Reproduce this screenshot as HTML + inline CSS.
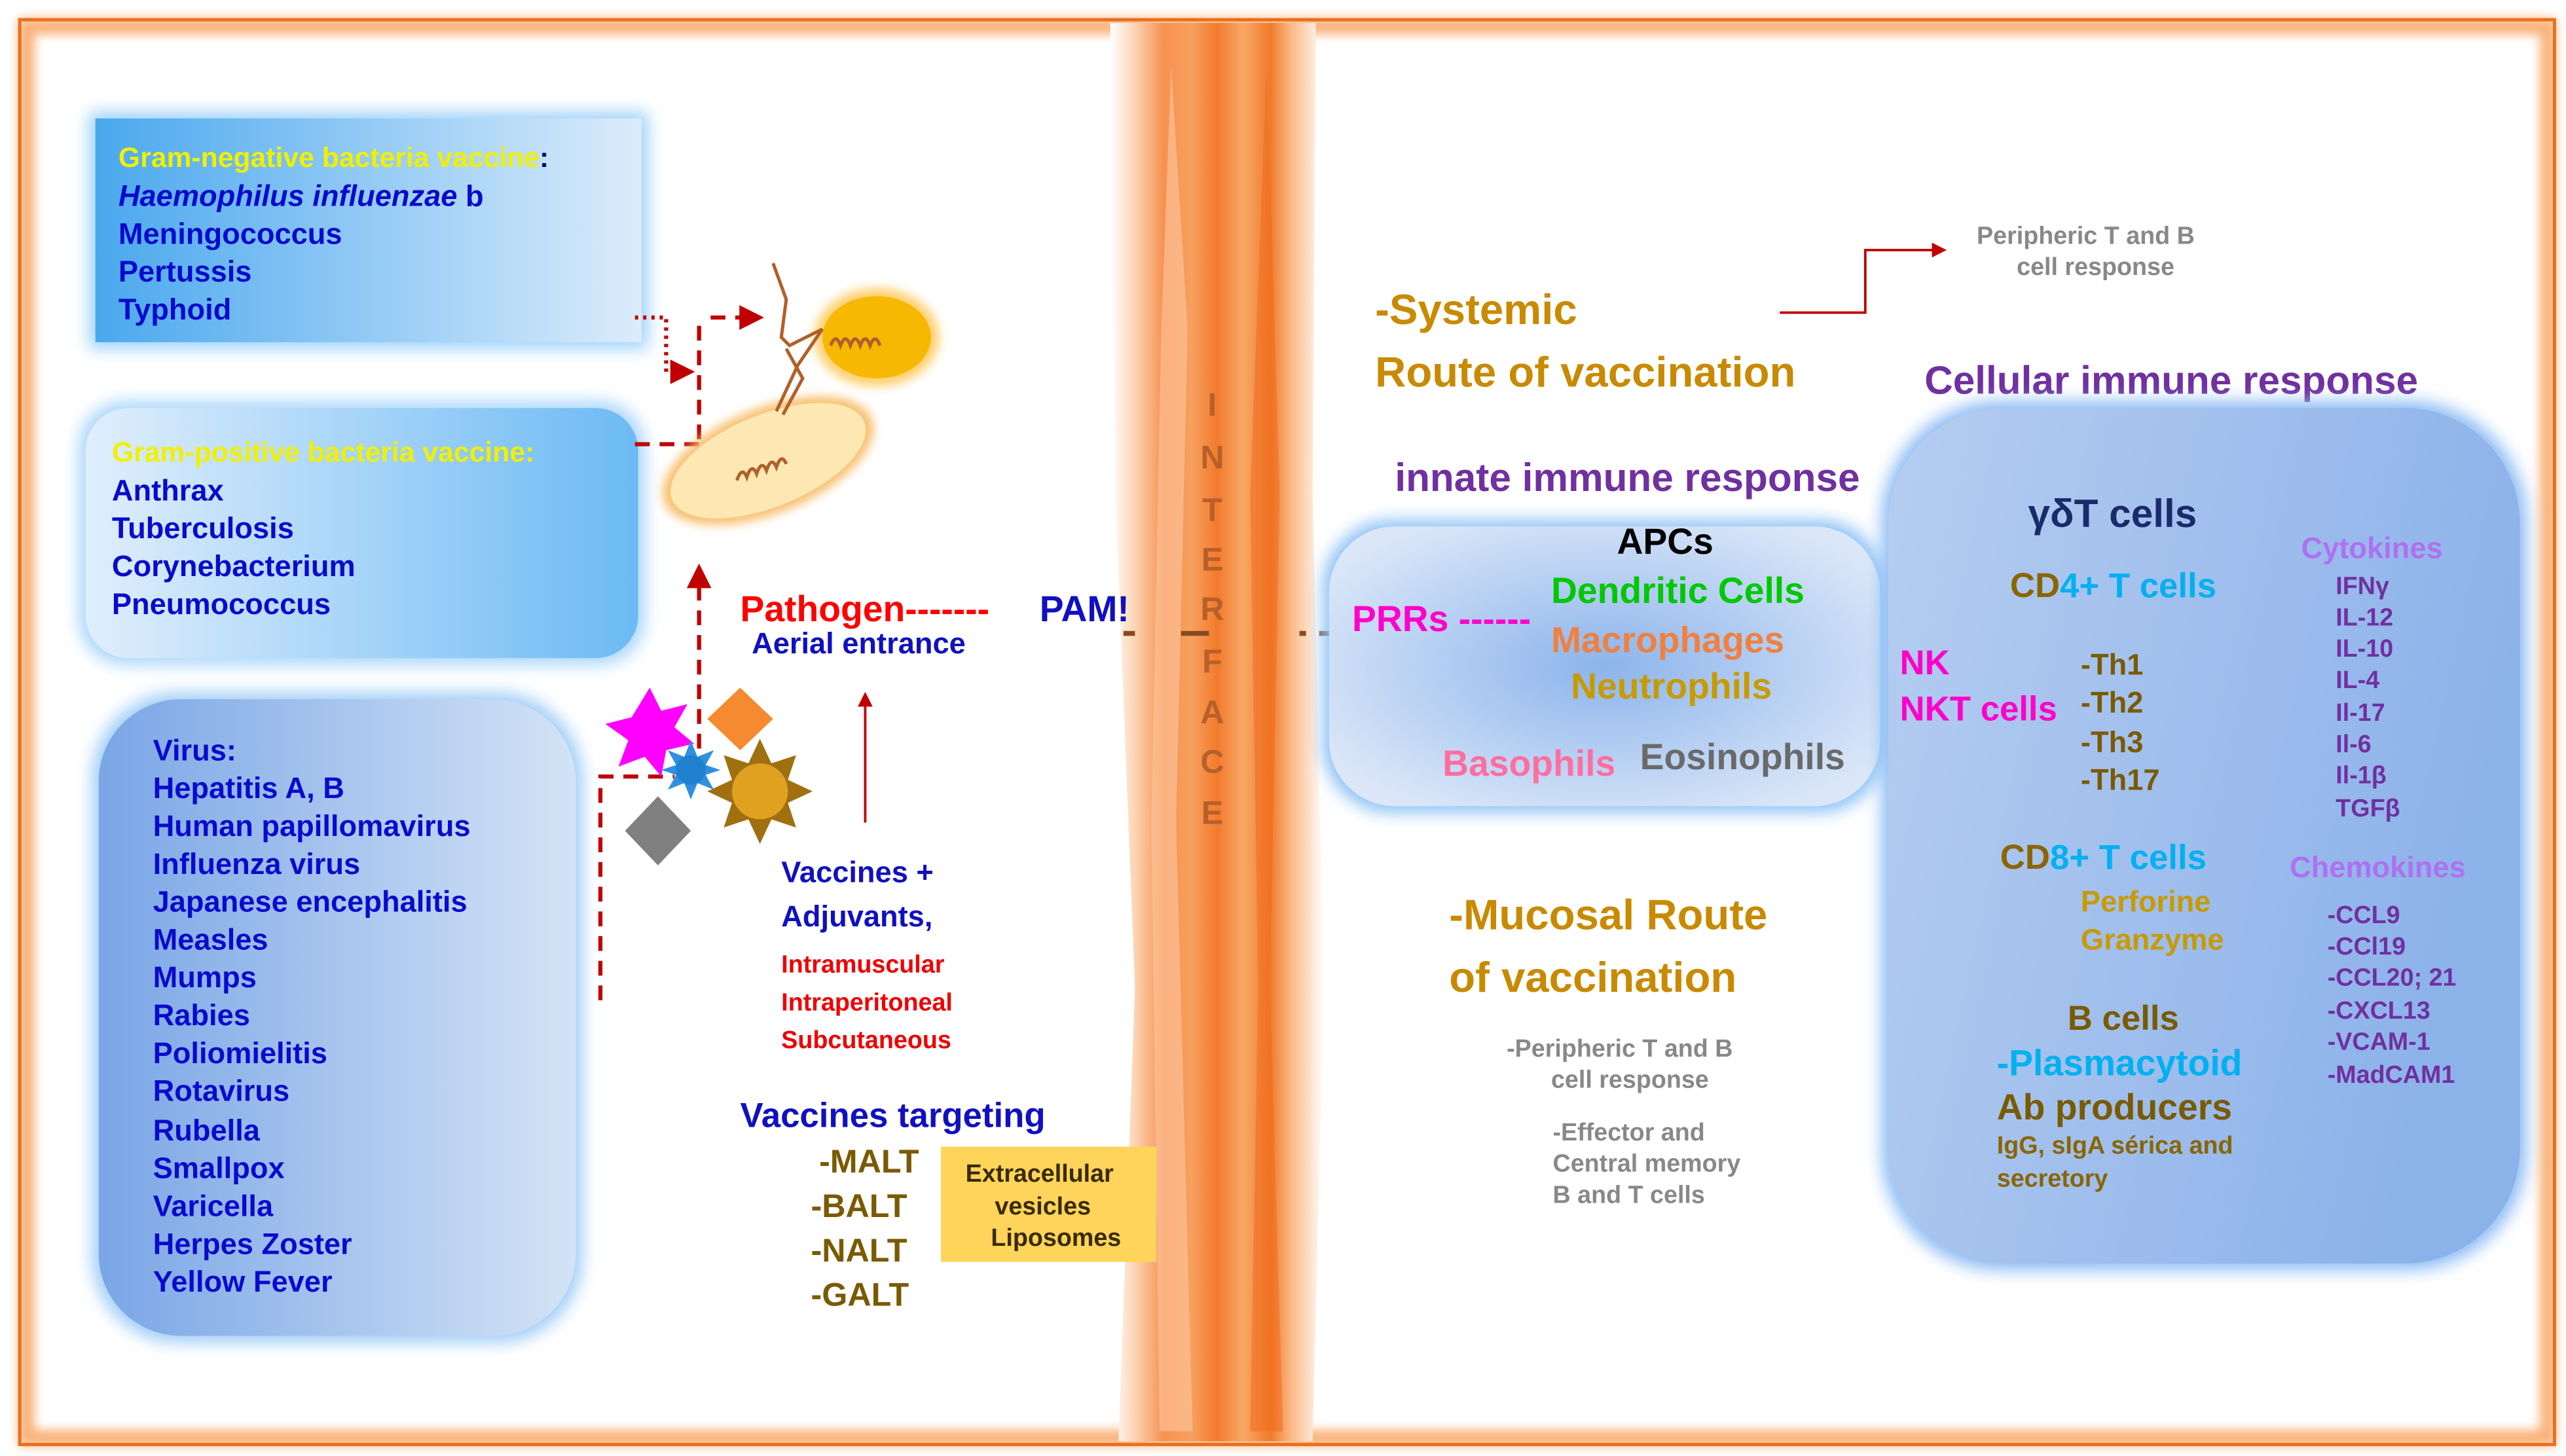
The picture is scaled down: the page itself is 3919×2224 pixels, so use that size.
<!DOCTYPE html>
<html><head><meta charset="utf-8"><style>
html,body{margin:0;padding:0;background:#fff;}
svg{display:block;}
text{font-family:"Liberation Sans",Arial,sans-serif;font-weight:bold;dominant-baseline:central;}
</style></head><body>
<svg width="3919" height="2224" viewBox="0 0 1560 885" preserveAspectRatio="none" xmlns="http://www.w3.org/2000/svg">
<defs>
<filter id="blur" x="-20%" y="-20%" width="140%" height="140%"><feGaussianBlur stdDeviation="5"/></filter>
<filter id="blur2" x="-20%" y="-20%" width="140%" height="140%"><feGaussianBlur stdDeviation="3"/></filter>
<linearGradient id="g1" x1="0" x2="1" y1="0" y2="0"><stop offset="0" stop-color="#4aa8ee"/><stop offset="1" stop-color="#dcecfb"/></linearGradient>
<linearGradient id="g2" x1="0" x2="1" y1="0" y2="0"><stop offset="0" stop-color="#e0eefc"/><stop offset="1" stop-color="#6cbaf4"/></linearGradient>
<linearGradient id="g3" x1="0" x2="1" y1="0" y2="0"><stop offset="0" stop-color="#7aa6e6"/><stop offset="1" stop-color="#d4e3f6"/></linearGradient>
<radialGradient id="g4" cx="0.5" cy="0.5" r="0.6"><stop offset="0" stop-color="#8cb4ec"/><stop offset="1" stop-color="#dbe7f8"/></radialGradient>
<linearGradient id="g5" x1="0" x2="1" y1="0" y2="0.3"><stop offset="0" stop-color="#b6cdf0"/><stop offset="1" stop-color="#8cb2ea"/></linearGradient>
<linearGradient id="band" x1="0" x2="1" y1="0" y2="0">
<stop offset="0" stop-color="#fff"/><stop offset="0.12" stop-color="#fcd2b0"/><stop offset="0.25" stop-color="#f79150"/><stop offset="0.38" stop-color="#f7a060"/><stop offset="0.5" stop-color="#f27a2c"/><stop offset="0.62" stop-color="#f8a868"/><stop offset="0.75" stop-color="#f07a2a"/><stop offset="0.85" stop-color="#fbbc8a"/><stop offset="1" stop-color="#fff"/></linearGradient>
<marker id="ar" markerWidth="6" markerHeight="6" refX="5" refY="3" orient="auto"><path d="M0,0 L6,3 L0,6 z" fill="#c00000"/></marker>
</defs>
<rect width="1560" height="885" fill="#fff"/>
<!-- frame -->
<rect x="16" y="16" width="1533" height="858" fill="none" stroke="#f9b27a" stroke-width="10" filter="url(#blur2)"/>
<rect x="12" y="12" width="1541" height="866" fill="none" stroke="#e8701e" stroke-width="2"/>
<!-- interface band -->
<path d="M675,14 L800,14 L798,300 L805,600 L798,876 L680,876 L690,600 L678,300 Z" fill="url(#band)"/>
<path d="M712,40 L722,200 L715,500 L725,870 L705,870 L700,500 L706,200 Z" fill="#fcc8a0" opacity="0.6"/>
<path d="M770,40 L778,300 L772,600 L780,870 L760,870 L765,600 L760,300 Z" fill="#f06a1a" opacity="0.5"/>
<g fill="#b8602a" font-size="20" text-anchor="middle" style="font-weight:normal">
<text x="737" y="246">I</text><text x="737" y="278">N</text><text x="737" y="310">T</text><text x="737" y="340">E</text><text x="737" y="370">R</text><text x="737" y="402">F</text><text x="737" y="433">A</text><text x="737" y="463">C</text><text x="737" y="494">E</text></g>
<g stroke="#8a4a20" stroke-width="3"><line x1="683" y1="385" x2="690" y2="385"/><line x1="718" y1="385" x2="735" y2="385"/><line x1="790" y1="385" x2="794" y2="385"/><line x1="802" y1="385" x2="810" y2="385"/></g>

<!-- box1 -->
<rect x="54" y="68" width="340" height="144" fill="#9fd2fa" filter="url(#blur)"/>
<rect x="58" y="72" width="332" height="136" fill="url(#g1)"/>
<text x="72" y="96" font-size="17" fill="#f0f000">Gram-negative bacteria vaccine<tspan fill="#000080">:</tspan></text>
<g font-size="18" fill="#0a0acc">
<text x="72" y="119" font-style="italic">Haemophilus influenzae <tspan font-style="normal">b</tspan></text>
<text x="72" y="142">Meningococcus</text><text x="72" y="165">Pertussis</text><text x="72" y="188">Typhoid</text></g>
<!-- box2 -->
<rect x="48" y="244" width="344" height="160" rx="28" fill="#a8d6fb" filter="url(#blur)"/>
<rect x="52" y="248" width="336" height="152" rx="26" fill="url(#g2)"/>
<text x="68" y="275" font-size="17" fill="#f0f000">Gram-positive bacteria vaccine:</text>
<g font-size="18" fill="#0a0acc"><text x="68" y="298">Anthrax</text><text x="68" y="321">Tuberculosis</text><text x="68" y="344">Corynebacterium</text><text x="68" y="367">Pneumococcus</text></g>
<!-- box3 -->
<rect x="56" y="421" width="298" height="395" rx="52" fill="#9fcdf7" filter="url(#blur)"/>
<rect x="60" y="425" width="290" height="387" rx="50" fill="url(#g3)"/>
<g font-size="18" fill="#0a0acc">
<text x="93" y="456">Virus:</text><text x="93" y="479">Hepatitis A, B</text><text x="93" y="502">Human papillomavirus</text><text x="93" y="525">Influenza virus</text><text x="93" y="548">Japanese encephalitis</text><text x="93" y="571">Measles</text><text x="93" y="594">Mumps</text><text x="93" y="617">Rabies</text><text x="93" y="640">Poliomielitis</text><text x="93" y="663">Rotavirus</text><text x="93" y="687">Rubella</text><text x="93" y="710">Smallpox</text><text x="93" y="733">Varicella</text><text x="93" y="756">Herpes Zoster</text><text x="93" y="779">Yellow Fever</text></g>

<!-- dashed red connectors -->
<g stroke="#c00000" fill="none" stroke-width="2.5">
<path d="M386,193 L405,193 L405,226 L420,226" stroke-dasharray="2,3" marker-end="url(#ar)"/>
<path d="M425,198 L425,270 M386,270 L425,270" stroke-dasharray="9,6"/>
<path d="M432,193 L462,193" stroke-dasharray="9,6" marker-end="url(#ar)"/>
<path d="M425,470 L425,345" stroke-dasharray="9,6" marker-end="url(#ar)"/>
<path d="M365,608 L365,472 L410,472" stroke-dasharray="9,6"/>
</g>
<line x1="526" y1="500" x2="526" y2="422" stroke="#c00000" stroke-width="1.5" marker-end="url(#ar)"/>

<!-- bacteria -->
<ellipse cx="533" cy="205" rx="38" ry="30" fill="#ffd070" filter="url(#blur2)"/>
<ellipse cx="533" cy="205" rx="33" ry="25" fill="#f6b800"/>
<g transform="rotate(-22 467 280)"><ellipse cx="467" cy="280" rx="68" ry="32" fill="#f8c070" filter="url(#blur2)"/><ellipse cx="467" cy="280" rx="63" ry="28" fill="#fde8b4"/></g>
<g stroke="#b0602a" stroke-width="2" fill="none">
<path d="M470,160 L478,182 L475,205 L480,210 L500,200"/><path d="M478,212 L488,230 L476,252"/><path d="M500,200 L485,222 L472,250"/>
<path d="M505,210 q3,-8 6,0 q3,-8 6,0 q3,-8 6,0 q3,-8 6,0 q3,-8 6,0"/>
<path d="M448,292 q3,-9 6,-2 q3,-9 6,-2 q3,-9 6,-2 q3,-9 6,-2 q3,-9 6,-2"/></g>
<!-- adjuvant shapes -->
<polygon points="395,418 402,432 418,428 410,442 422,452 405,456 402,472 392,460 376,466 382,450 368,440 384,436" fill="#ff00ff"/>
<polygon points="450,418 470,437 450,456 430,437" fill="#f58a30"/>
<polygon points="400,484 420,505 400,526 380,505" fill="#808080"/>
<g transform="translate(462 481)"><polygon points="0,-32 7,-17 22,-22 17,-7 32,0 17,7 22,22 7,17 0,32 -7,17 -22,22 -17,7 -32,0 -17,-7 -22,-22 -7,-17" fill="#a07010"/><circle r="17" fill="#e0a020"/></g>
<g transform="translate(420 468)"><polygon points="0,-18 4,-8 14,-12 9,-3 18,0 9,3 14,12 4,8 0,18 -4,8 -14,12 -9,3 -18,0 -9,-3 -14,-12 -4,-8" fill="#3090e0"/><circle r="9" fill="#2080d0"/></g>

<text x="450" y="370" font-size="22" fill="#ff0000">Pathogen-------</text>
<text x="632" y="370" font-size="22" fill="#1010c0">PAM!</text>
<text x="457" y="391" font-size="18" fill="#1010c0">Aerial entrance</text>
<text x="475" y="530" font-size="18" fill="#1010c0">Vaccines +</text>
<text x="475" y="557" font-size="18" fill="#1010c0">Adjuvants,</text>
<g font-size="15" fill="#ee0000"><text x="475" y="586">Intramuscular</text><text x="475" y="609">Intraperitoneal</text><text x="475" y="632">Subcutaneous</text></g>
<text x="450" y="678" font-size="21" fill="#1010c0">Vaccines targeting</text>
<g font-size="20" fill="#7a5a00"><text x="498" y="706">-MALT</text><text x="493" y="733">-BALT</text><text x="493" y="760">-NALT</text><text x="493" y="787">-GALT</text></g>
<rect x="572" y="697" width="131" height="70" fill="#ffd45a"/>
<g font-size="15" fill="#3a2a00" text-anchor="middle"><text x="632" y="713">Extracellular</text><text x="634" y="733">vesicles</text><text x="642" y="752">Liposomes</text></g>

<!-- right side -->
<text x="836" y="188" font-size="26" fill="#c88a00">-Systemic</text>
<text x="836" y="226" font-size="26" fill="#c88a00">Route of vaccination</text>
<path d="M1082,190 L1134,190 L1134,152 L1182,152" stroke="#c00000" stroke-width="1.5" fill="none" marker-end="url(#ar)"/>
<g font-size="15" fill="#888" text-anchor="middle" style="font-weight:normal"><text x="1268" y="143">Peripheric T and B</text><text x="1274" y="162">cell response</text></g>
<text x="1170" y="231" font-size="24" fill="#7030a0">Cellular  immune response</text>
<text x="848" y="290" font-size="24" fill="#7030a0">innate immune response</text>

<rect x="804" y="316" width="343" height="178" rx="42" fill="#8ec2f6" filter="url(#blur)"/>
<rect x="808" y="320" width="335" height="170" rx="40" fill="url(#g4)"/>
<text x="983" y="329" font-size="22" fill="#000">APCs</text>
<text x="943" y="359" font-size="22" fill="#00c800">Dendritic Cells</text>
<text x="943" y="389" font-size="22" fill="#f08040">Macrophages</text>
<text x="955" y="417" font-size="22" fill="#c89a00">Neutrophils</text>
<text x="822" y="376" font-size="22" fill="#ff00cc">PRRs ------</text>
<text x="877" y="464" font-size="22" fill="#ff6ea0">Basophils</text>
<text x="997" y="460" font-size="22" fill="#6a6a6a">Eosinophils</text>

<rect x="1144" y="244" width="392" height="528" rx="72" fill="#8cbcf4" filter="url(#blur)"/>
<rect x="1148" y="248" width="384" height="520" rx="70" fill="url(#g5)"/>
<text x="1233" y="312" font-size="24" fill="#1a2a6a">γδT cells</text>
<text x="1222" y="356" font-size="21" fill="#8a6500">CD<tspan fill="#00b0f0">4+ T cells</tspan></text>
<text x="1155" y="403" font-size="21" fill="#ff00cc">NK</text>
<text x="1155" y="431" font-size="21" fill="#ff00cc">NKT cells</text>
<g font-size="18" fill="#7a5a00"><text x="1265" y="404">-Th1</text><text x="1265" y="427">-Th2</text><text x="1265" y="451">-Th3</text><text x="1265" y="474">-Th17</text></g>
<text x="1399" y="333" font-size="18" fill="#b070f0">Cytokines</text>
<g font-size="15" fill="#7030a0"><text x="1420" y="356">IFNγ</text><text x="1420" y="375">IL-12</text><text x="1420" y="394">IL-10</text><text x="1420" y="413">IL-4</text><text x="1420" y="433">Il-17</text><text x="1420" y="452">Il-6</text><text x="1420" y="471">Il-1β</text><text x="1420" y="491">TGFβ</text></g>
<text x="1216" y="521" font-size="21" fill="#8a6500">CD<tspan fill="#00b0f0">8+ T cells</tspan></text>
<text x="1265" y="548" font-size="18" fill="#c89a00">Perforine</text>
<text x="1265" y="571" font-size="18" fill="#c89a00">Granzyme</text>
<text x="1392" y="527" font-size="18" fill="#b070f0">Chemokines</text>
<g font-size="15" fill="#7030a0"><text x="1415" y="556">-CCL9</text><text x="1415" y="575">-CCl19</text><text x="1415" y="594">-CCL20;  21</text><text x="1415" y="614">-CXCL13</text><text x="1415" y="633">-VCAM-1</text><text x="1415" y="653">-MadCAM1</text></g>
<text x="1257" y="619" font-size="21" fill="#7a5a00">B cells</text>
<text x="1214" y="646" font-size="22" fill="#00b0f0">-Plasmacytoid</text>
<text x="1214" y="673" font-size="22" fill="#7a5a00">Ab producers</text>
<text x="1214" y="696" font-size="15" fill="#8a6500">IgG, sIgA  sérica and</text>
<text x="1214" y="716" font-size="15" fill="#8a6500">secretory</text>

<text x="881" y="556" font-size="26" fill="#c88a00">-Mucosal Route</text>
<text x="881" y="594" font-size="26" fill="#c88a00">of vaccination</text>
<g font-size="15" fill="#888" style="font-weight:normal"><text x="916" y="637">-Peripheric T and B</text><text x="943" y="656">cell response</text><text x="944" y="688">-Effector  and</text><text x="944" y="707">Central memory</text><text x="944" y="726">B and T cells</text></g>
</svg>
</body></html>
